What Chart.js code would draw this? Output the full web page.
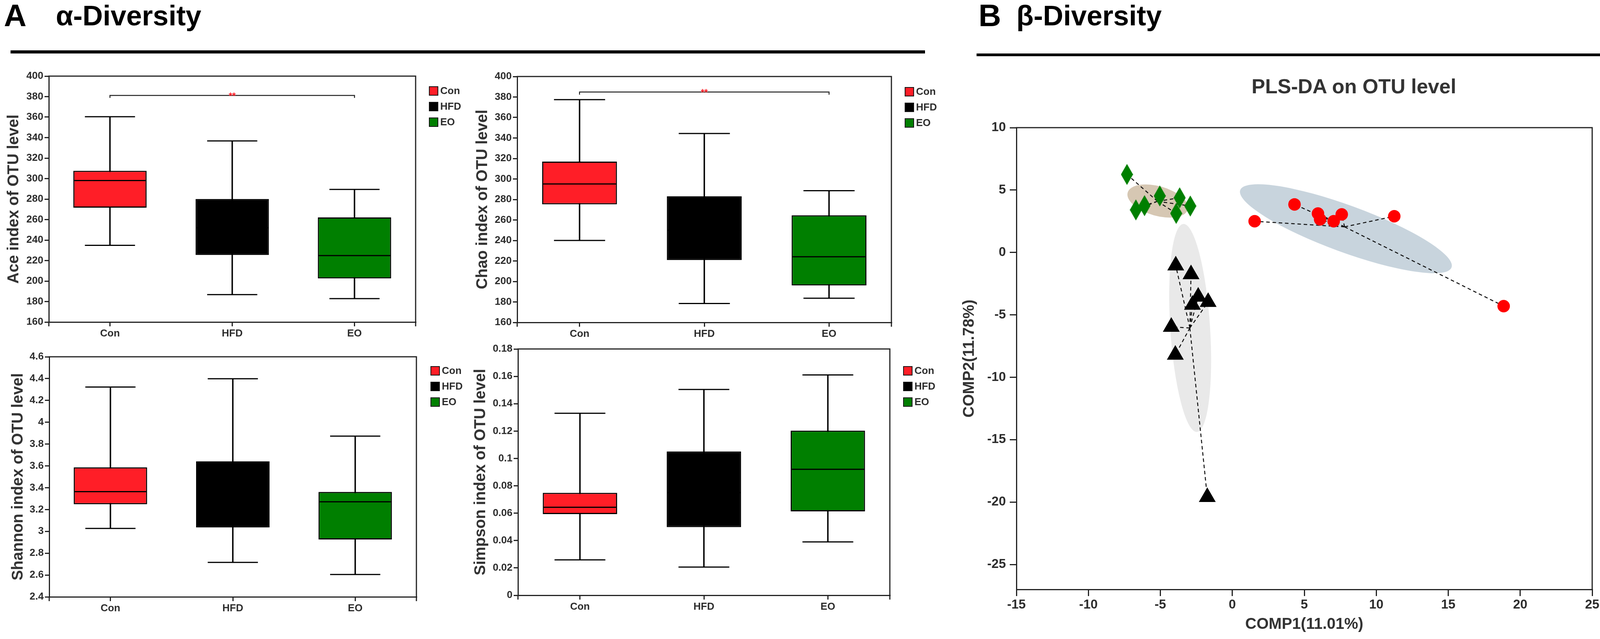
<!DOCTYPE html>
<html>
<head>
<meta charset="utf-8">
<title>alpha / beta diversity</title>
<script src="https://cdn.jsdelivr.net/npm/chart.js@4.4.1/dist/chart.umd.min.js"></script>
<style>
  html, body { margin: 0; padding: 0; background: #fff; }
  body { position: relative; width: 4317px; height: 1637px; overflow: hidden;
         font-family: "Liberation Sans", Arial, sans-serif; }
  .txt { position: absolute; font-weight: bold; line-height: 1; white-space: nowrap; }
  .letter { font-size: 80px; color: #000; }
  .head { font-size: 72px; color: #000; }
  .rule { position: absolute; background: #000; }
  canvas { position: absolute; }
</style>
</head>
<body>
<div class="txt letter" style="left:10px;top:0px">A</div>
<div class="txt head" style="left:143px;top:4px">α-Diversity</div>
<div class="rule" style="left:27px;top:129px;width:2341px;height:8px"></div>

<div class="txt letter" style="left:2505px;top:0px">B</div>
<div class="txt head" style="left:2602px;top:4px">β-Diversity</div>
<div class="rule" style="left:2500px;top:137px;width:1715px;height:7px"></div>
<div class="txt" style="left:3204px;top:195px;font-size:52px;color:#333">PLS-DA on OTU level</div>

<canvas id="ace" width="1195" height="730" style="left:0px;top:150px"></canvas>
<canvas id="chao" width="1200" height="730" style="left:1200px;top:151px"></canvas>
<canvas id="shannon" width="1184" height="715" style="left:11px;top:869px"></canvas>
<canvas id="simpson" width="1205" height="731" style="left:1195px;top:849px"></canvas>
<canvas id="plsda" width="1867" height="1387" style="left:2450px;top:250px"></canvas>

<script>
// groups shared by every panel
const groups = ['Con', 'HFD', 'EO'];
const groupColors = ['#ff1e27', '#000000', '#007f00'];

// Ace index (min, q1, median, q3, max per group)
const aceMin = [234.9, 186.8, 182.9];
const aceQ1 = [271.6, 225.4, 202.6];
const aceMedian = [298.1, 252.0, 224.9];
const aceQ3 = [307.6, 280.1, 262.1];
const aceMax = [360.4, 336.8, 289.4];
const aceBracket = [378.8, 381.1];

// Chao index
const chaoMin = [240.0, 178.5, 183.6];
const chaoQ1 = [275.2, 220.9, 196.1];
const chaoMedian = [295.1, 250.0, 224.1];
const chaoQ3 = [317.0, 283.1, 264.6];
const chaoMax = [377.4, 344.4, 288.6];
const chaoBracket = [382.3, 384.9];

// Shannon index
const shannonMin = [3.027, 2.716, 2.605];
const shannonQ1 = [3.249, 3.036, 2.926];
const shannonMedian = [3.364, 3.35, 3.271];
const shannonQ3 = [3.587, 3.641, 3.361];
const shannonMax = [4.323, 4.399, 3.873];

// Simpson index
const simpsonMin = [0.0259, 0.0206, 0.039];
const simpsonQ1 = [0.0593, 0.0498, 0.0613];
const simpsonMedian = [0.0643, 0.075, 0.0921];
const simpsonQ3 = [0.0749, 0.1051, 0.1203];
const simpsonMax = [0.133, 0.1504, 0.161];

// PLS-DA scores
const conX = [1.55, 4.32, 5.95, 6.1, 7.04, 7.6, 11.25, 18.85];
const conY = [2.5, 3.85, 3.12, 2.65, 2.5, 3.05, 2.9, -4.3];
const hfdX = [-3.93, -2.87, -2.37, -1.68, -2.77, -4.24, -3.96, -1.74];
const hfdY = [-1.05, -1.75, -3.55, -3.97, -4.2, -5.97, -8.2, -19.6];
const eoX = [-7.32, -5.04, -3.66, -6.1, -6.7, -3.9, -2.92];
const eoY = [6.25, 4.53, 4.38, 3.75, 3.41, 3.13, 3.72];
// group centres (where the dashed spokes meet)
const centreX = [7.8, -2.95, -5.2];
const centreY = [2.05, -6.05, 4.1];
// confidence ellipses: centre and two conjugate semi-axes, data units
const ellCx = [7.89, -2.93, -5.18];
const ellCy = [1.9, -6.05, 4.12];
const ellUx = [7.34, -0.47, 2.09];
const ellUy = [-3.1, 8.33, -0.68];
const ellVx = [-0.56, 1.38, -0.28];
const ellVy = [-1.76, 0.10, -1.14];
const ellColors = ['#c8d4dd', '#e9e9e9', '#d6c7b3'];

const FONT = '"Liberation Sans", Arial, sans-serif';
const INK = '#2d2d2d';
Chart.defaults.font.family = FONT;
Chart.defaults.animation = false;

// top and right edges of the box, plus the end ticks on the x axis
function framePlugin(endTicks, tickLen) {
  return {
    id: 'frame',
    afterDraw(chart) {
      const { ctx, chartArea: a } = chart;
      ctx.save();
      ctx.strokeStyle = '#222';
      ctx.lineWidth = 3;
      ctx.beginPath();
      ctx.moveTo(a.left - 1.5, a.top);
      ctx.lineTo(a.right, a.top);
      ctx.lineTo(a.right, a.bottom + 1.5);
      if (endTicks) {
        ctx.moveTo(a.left, a.bottom);
        ctx.lineTo(a.left, a.bottom + tickLen);
        ctx.moveTo(a.right, a.bottom);
        ctx.lineTo(a.right, a.bottom + tickLen);
      }
      ctx.stroke();
      ctx.restore();
    }
  };
}

// whisker caps, medians, significance stars and legend of a box panel
function boxPlugin(s) {
  return {
    id: 'boxMarks',
    afterDatasetsDraw(chart) {
      const { ctx, chartArea: a, scales: { x, y } } = chart;
      const step = x.getPixelForValue(1) - x.getPixelForValue(0);
      const boxHalf = step * 0.3 - 1.5;
      const capHalf = step * 0.205;
      ctx.save();
      ctx.strokeStyle = '#000';
      ctx.lineWidth = 3;
      groups.forEach((g, i) => {
        const cx = x.getPixelForValue(i);
        [[s.max[i], capHalf], [s.min[i], capHalf], [s.median[i], boxHalf]].forEach(([v, h]) => {
          const py = y.getPixelForValue(v);
          ctx.beginPath();
          ctx.moveTo(cx - h, py);
          ctx.lineTo(cx + h, py);
          ctx.stroke();
        });
      });

      if (s.bracket) {
        ctx.fillStyle = '#ff1e27';
        ctx.font = 'bold 23px ' + FONT;
        ctx.textAlign = 'center';
        ctx.textBaseline = 'alphabetic';
        ctx.fillText('**', x.getPixelForValue(1), y.getPixelForValue(s.bracket[1]) + 9);
      }

      // legend
      const x0 = a.right + s.legendDx;
      ctx.font = 'bold 26px ' + FONT;
      ctx.textAlign = 'left';
      ctx.textBaseline = 'middle';
      groups.forEach((g, i) => {
        const y0 = a.top + s.legendDy + i * 40;
        ctx.fillStyle = groupColors[i];
        ctx.fillRect(x0, y0, 24, 24);
        ctx.lineWidth = 2;
        ctx.strokeStyle = '#111';
        ctx.strokeRect(x0 + 1, y0 + 1, 22, 22);
        ctx.fillStyle = INK;
        ctx.fillText(g, x0 + 29, y0 + 13);
      });
      ctx.restore();
    }
  };
}

function boxChart(id, s) {
  const datasets = [
    {
      type: 'bar',
      label: 'box',
      data: groups.map((g, i) => [s.q1[i], s.q3[i]]),
      backgroundColor: groupColors,
      borderColor: '#000',
      borderWidth: 3,
      borderSkipped: false,
      grouped: false,
      barPercentage: 0.6,
      categoryPercentage: 1,
      order: 1
    },
    {
      type: 'bar',
      label: 'whisker',
      data: groups.map((g, i) => [s.min[i], s.max[i]]),
      backgroundColor: '#000',
      borderWidth: 0,
      barThickness: 3,
      grouped: false,
      order: 2
    }
  ];
  if (s.bracket) {
    datasets.push({
      type: 'line',
      label: 'bracket',
      data: [
        { x: 'Con', y: s.bracket[0] }, { x: 'Con', y: s.bracket[1] },
        { x: 'EO', y: s.bracket[1] }, { x: 'EO', y: s.bracket[0] }
      ],
      borderColor: '#222',
      borderWidth: 2.5,
      pointRadius: 0,
      tension: 0,
      fill: false,
      order: 0
    });
  }

  return new Chart(document.getElementById(id), {
    type: 'bar',
    data: { labels: groups, datasets },
    options: {
      responsive: false,
      layout: { padding: { top: 45, right: s.right, left: 0, bottom: 0 } },
      plugins: { legend: { display: false }, tooltip: { enabled: false } },
      scales: {
        x: {
          offset: true,
          grid: { offset: false, drawOnChartArea: false, tickLength: 11, lineWidth: 3, color: '#222' },
          border: { width: 3, color: '#222' },
          ticks: { font: { size: 26, weight: 'bold' }, color: INK, padding: 3 },
          afterFit: (sc) => { sc.height = 55; }
        },
        y: {
          min: s.yMin,
          max: s.yMax,
          grid: { drawOnChartArea: false, tickLength: 11, lineWidth: 3, color: '#222' },
          border: { width: 3, color: '#222' },
          ticks: {
            stepSize: s.step,
            font: { size: 26, weight: 'bold' },
            color: INK,
            padding: 3,
            callback: (v) => String(Math.round(v * 1000) / 1000)
          },
          title: {
            display: true,
            text: s.title,
            font: { size: 40, weight: 'bold' },
            color: '#333',
            padding: { top: 12, bottom: 0 }
          },
          afterFit: (sc) => { sc.width = s.axisW; }
        }
      }
    },
    plugins: [framePlugin(true, 11), boxPlugin(s)]
  });
}

boxChart('ace', {
  min: aceMin, q1: aceQ1, median: aceMedian, q3: aceQ3, max: aceMax, bracket: aceBracket,
  yMin: 160, yMax: 400, step: 20, title: 'Ace index of OTU level',
  axisW: 125, right: 131, legendDx: 34, legendDy: 26
});
boxChart('chao', {
  min: chaoMin, q1: chaoQ1, median: chaoMedian, q3: chaoQ3, max: chaoMax, bracket: chaoBracket,
  yMin: 160, yMax: 400, step: 20, title: 'Chao index of OTU level',
  axisW: 124, right: 118, legendDx: 34, legendDy: 27
});
boxChart('shannon', {
  min: shannonMin, q1: shannonQ1, median: shannonMedian, q3: shannonQ3, max: shannonMax,
  yMin: 2.4, yMax: 4.6, step: 0.2, title: 'Shannon index of OTU level',
  axisW: 115, right: 129, legendDx: 36, legendDy: 24
});
boxChart('simpson', {
  min: simpsonMin, q1: simpsonQ1, median: simpsonMedian, q3: simpsonQ3, max: simpsonMax,
  yMin: 0, yMax: 0.18, step: 0.02, title: 'Simpson index of OTU level',
  axisW: 131, right: 122, legendDx: 34, legendDy: 44
});

// ---------- PLS-DA ----------
function diamond(w, h, color) {
  const c = document.createElement('canvas');
  c.width = w;
  c.height = h;
  const g = c.getContext('2d');
  g.fillStyle = color;
  g.beginPath();
  g.moveTo(w / 2, 0);
  g.lineTo(w, h / 2);
  g.lineTo(w / 2, h);
  g.lineTo(0, h / 2);
  g.closePath();
  g.fill();
  return c;
}
const diamondMark = diamond(31, 54, '#007f00');
const diamondLegend = diamond(33, 56, '#007f00');

const ellipsePlugin = {
  id: 'ellipses',
  beforeDatasetsDraw(chart) {
    const { ctx, chartArea: a, scales: { x, y } } = chart;
    ctx.save();
    ctx.beginPath();
    ctx.rect(a.left, a.top, a.width, a.height);
    ctx.clip();
    ellCx.forEach((cx, i) => {
      const cy = ellCy[i];
      const px = x.getPixelForValue(cx);
      const py = y.getPixelForValue(cy);
      const ux = x.getPixelForValue(cx + ellUx[i]) - px;
      const uy = y.getPixelForValue(cy + ellUy[i]) - py;
      const vx = x.getPixelForValue(cx + ellVx[i]) - px;
      const vy = y.getPixelForValue(cy + ellVy[i]) - py;
      ctx.save();
      ctx.transform(ux, uy, vx, vy, px, py);
      ctx.beginPath();
      ctx.arc(0, 0, 1, 0, Math.PI * 2);
      ctx.restore();
      ctx.fillStyle = ellColors[i];
      ctx.fill();
    });
    ctx.restore();
  }
};

const plsLegend = {
  id: 'plsLegend',
  afterDraw(chart) {
    const { ctx, chartArea: a } = chart;
    const mx = a.right + 86;
    const tx = a.right + 158;
    const rows = [a.top + 56, a.top + 112, a.top + 169];
    ctx.save();
    ctx.fillStyle = '#ff0000';
    ctx.beginPath();
    ctx.arc(mx, rows[0], 20, 0, Math.PI * 2);
    ctx.fill();
    ctx.fillStyle = '#000';
    ctx.beginPath();
    ctx.moveTo(mx, rows[1] - 20);
    ctx.lineTo(mx + 23, rows[1] + 20);
    ctx.lineTo(mx - 23, rows[1] + 20);
    ctx.closePath();
    ctx.fill();
    ctx.drawImage(diamondLegend, mx - diamondLegend.width / 2, rows[2] - diamondLegend.height / 2);
    ctx.fillStyle = INK;
    ctx.font = 'bold 35px ' + FONT;
    ctx.textBaseline = 'middle';
    groups.forEach((g, i) => ctx.fillText(g, tx, rows[i] + 1));
    ctx.restore();
  }
};

// centre -> point segments, a gap between each so the dashes never overlap
function spokes(xs, ys, k) {
  const c = { x: centreX[k], y: centreY[k] };
  return xs.flatMap((v, i) => [c, { x: v, y: ys[i] }, { x: v, y: null }]);
}
const spokeStyle = {
  type: 'line', borderColor: '#111', borderWidth: 2.5, borderDash: [9, 7],
  pointRadius: 0, tension: 0, fill: false, spanGaps: false, order: 1
};

new Chart(document.getElementById('plsda'), {
  type: 'scatter',
  data: {
    datasets: [
      { label: 'Con', data: conX.map((v, i) => ({ x: v, y: conY[i] })), pointStyle: 'circle',
        pointRadius: 16, backgroundColor: '#ff0000', borderWidth: 0, order: 0 },
      { label: 'HFD', data: hfdX.map((v, i) => ({ x: v, y: hfdY[i] })), pointStyle: 'triangle',
        pointRadius: 25, backgroundColor: '#000', borderWidth: 0, order: 0 },
      { label: 'EO', data: eoX.map((v, i) => ({ x: v, y: eoY[i] })), pointStyle: diamondMark,
        pointRadius: 20, backgroundColor: '#007f00', borderWidth: 0, order: 0 },
      Object.assign({ label: 'Con spokes', data: spokes(conX, conY, 0) }, spokeStyle),
      Object.assign({ label: 'HFD spokes', data: spokes(hfdX, hfdY, 1) }, spokeStyle),
      Object.assign({ label: 'EO spokes', data: spokes(eoX, eoY, 2) }, spokeStyle)
    ]
  },
  options: {
    responsive: false,
    layout: { padding: { top: 77, right: 241, left: 0, bottom: 0 } },
    plugins: { legend: { display: false }, tooltip: { enabled: false } },
    scales: {
      x: {
        type: 'linear',
        min: -15,
        max: 25,
        grid: { drawOnChartArea: false, tickLength: 17, lineWidth: 3, color: '#222' },
        border: { width: 3, color: '#222' },
        ticks: { stepSize: 5, font: { size: 33, weight: 'bold' }, color: INK, padding: 3,
                 autoSkip: false, maxRotation: 0 },
        title: { display: true, text: 'COMP1(11.01%)', font: { size: 40, weight: 'bold' },
                 color: '#333', padding: { top: 0, bottom: 13 } },
        afterFit: (sc) => { sc.height = 127; }
      },
      y: {
        type: 'linear',
        min: -27,
        max: 10,
        grid: { drawOnChartArea: false, tickLength: 17, lineWidth: 3, color: '#222' },
        border: { width: 3, color: '#222' },
        ticks: { stepSize: 5, font: { size: 33, weight: 'bold' }, color: INK, padding: 10 },
        afterBuildTicks: (sc) => { sc.ticks = sc.ticks.filter((t) => t.value % 5 === 0); },
        title: { display: true, text: 'COMP2(11.78%)', font: { size: 40, weight: 'bold' },
                 color: '#333', padding: { top: 8, bottom: 0 } },
        afterFit: (sc) => { sc.width = 152; }
      }
    }
  },
  plugins: [ellipsePlugin, framePlugin(false, 17), plsLegend]
});
</script>
</body>
</html>
